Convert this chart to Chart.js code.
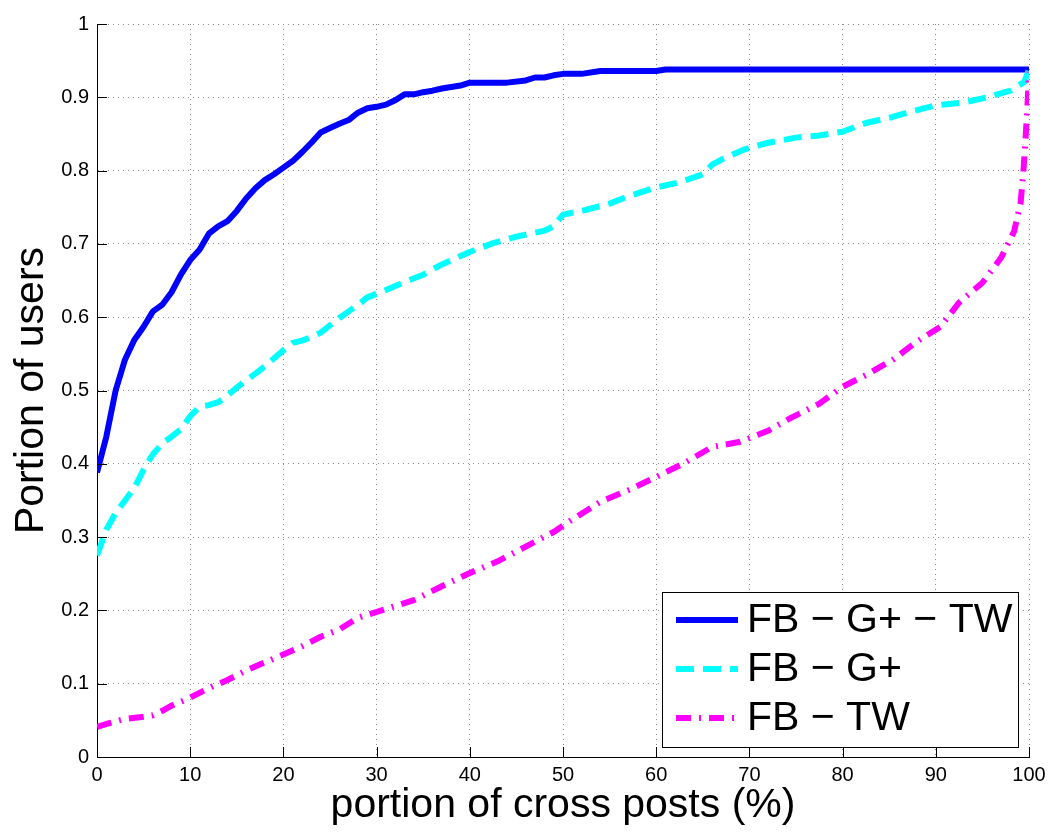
<!DOCTYPE html>
<html>
<head>
<meta charset="utf-8">
<script src="https://cdn.jsdelivr.net/npm/chart.js@4/dist/chart.umd.min.js"></script>
<style>
html,body{margin:0;padding:0;background:#fff;}
#wrap{width:1055px;height:838px;}
</style>
</head>
<body>
<div id="wrap"><canvas id="c" width="1055" height="838"></canvas></div>
<script>
// ---- data ----
const seriesNames = ["FB \u2212 G+ \u2212 TW", "FB \u2212 G+", "FB \u2212 TW"];

const allX = [0,1,2,3,4,5,6,7,8,9,10,11,12,13,14,15,16,17,18,19,20,21,22,23,24,25,26,27,28,29,30,31,32,33,34,35,36,37,38,39,40,42,44,46,47,48,49,50,52,54,56,60,61,100];
const allY = [0.388,0.437,0.500,0.542,0.569,0.587,0.608,0.617,0.634,0.658,0.678,0.692,0.714,0.724,0.731,0.745,0.762,0.776,0.787,0.795,0.804,0.813,0.825,0.838,0.852,0.858,0.864,0.869,0.879,0.885,0.887,0.890,0.896,0.904,0.904,0.907,0.909,0.912,0.914,0.916,0.920,0.920,0.920,0.923,0.927,0.927,0.930,0.932,0.932,0.936,0.936,0.936,0.938,0.938];

const gpX = [0,1,2,3,4,5,6,7,8,9,10,11,12,13,14,15,16,17,18,19,20,21,22,23,24,25,26,27,28,29,30,31,33,35,37,40,42.5,45,48,49,50,52,55,57,60,62.5,65,66,67,69.5,72,75,77.5,80,82.5,85,87.5,90,93,95.5,98,99.5,100];
const gpY = [0.275,0.310,0.333,0.350,0.367,0.392,0.413,0.428,0.437,0.447,0.465,0.478,0.480,0.484,0.493,0.504,0.514,0.523,0.533,0.544,0.555,0.565,0.568,0.573,0.579,0.589,0.599,0.608,0.617,0.627,0.632,0.637,0.648,0.658,0.672,0.689,0.701,0.710,0.718,0.724,0.740,0.745,0.755,0.765,0.777,0.784,0.795,0.808,0.815,0.829,0.838,0.845,0.848,0.853,0.865,0.872,0.881,0.889,0.893,0.900,0.909,0.921,0.938];

const twX = [0,1.5,3,5,6,7,8,10,12,14,16,18,20,22,24,26,28,31,34,37,40,43,46,49,51,54,57,60,63,66,69,72,74.5,77.5,80,82.5,85.5,88,90.5,92.5,95,97,98.4,99.1,99.4,99.6,99.8,100];
const twY = [0.041,0.047,0.052,0.055,0.057,0.063,0.070,0.081,0.094,0.105,0.118,0.129,0.140,0.151,0.164,0.174,0.190,0.202,0.214,0.233,0.251,0.267,0.287,0.307,0.324,0.348,0.364,0.382,0.401,0.423,0.430,0.445,0.463,0.482,0.505,0.521,0.543,0.567,0.587,0.620,0.647,0.681,0.717,0.756,0.799,0.838,0.879,0.935];

const xTicks = [0,10,20,30,40,50,60,70,80,90,100];
const yTicks = [0,0.1,0.2,0.3,0.4,0.5,0.6,0.7,0.8,0.9,1];

const colors = ["#0000ff", "#00ffff", "#ff00ff"];
const dashes = [[], [18, 9], [15, 8, 2, 8]];

function pts(xs, ys){ return xs.map((x,i)=>({x:x, y:ys[i]})); }
const seriesData = [pts(allX, allY), pts(gpX, gpY), pts(twX, twY)];

const FONT = "'Liberation Sans', Arial, Helvetica, sans-serif";

// inward tick marks (MATLAB-style) using the scales
const tickPlugin = {
  id: 'inTicks',
  afterDraw(chart){
    const ctx = chart.ctx, xs = chart.scales.x, ys = chart.scales.y;
    const a = chart.chartArea;
    ctx.save();
    ctx.strokeStyle = '#000'; ctx.lineWidth = 1;
    ctx.beginPath();
    yTicks.forEach(v=>{ const p = Math.round(ys.getPixelForValue(v))+0.5; ctx.moveTo(a.left, p); ctx.lineTo(a.left+10, p); });
    xTicks.forEach(v=>{ const p = Math.round(xs.getPixelForValue(v))+0.5; ctx.moveTo(p, a.bottom); ctx.lineTo(p, a.bottom-10); });
    ctx.stroke();
    ctx.restore();
  }
};

// legend box inside the axes (lower right)
const legendPlugin = {
  id: 'boxLegend',
  afterDraw(chart){
    const ctx = chart.ctx;
    const bx = 662.5, by = 592.5, bw = 356, bh = 155;
    ctx.save();
    ctx.fillStyle = '#fff'; ctx.fillRect(bx, by, bw, bh);
    ctx.strokeStyle = '#000'; ctx.lineWidth = 1; ctx.strokeRect(bx, by, bw, bh);
    const rows = [620, 669, 718];
    chart.data.datasets.forEach((ds, i)=>{
      const y = rows[i];
      ctx.strokeStyle = ds.borderColor; ctx.lineWidth = 6; ctx.lineCap = 'butt';
      ctx.setLineDash(ds.borderDash || []);
      ctx.beginPath(); ctx.moveTo(676, y); ctx.lineTo(738, y); ctx.stroke();
      ctx.setLineDash([]);
      ctx.fillStyle = '#000'; ctx.font = "41px " + FONT; ctx.textBaseline = 'middle'; ctx.textAlign = 'left';
      ctx.fillText(ds.label, 747, y + 1);
    });
    ctx.restore();
  }
};

const datasets = seriesNames.map((n,i)=>({
  label: n, data: seriesData[i], borderColor: colors[i], backgroundColor: colors[i],
  borderWidth: 6, borderDash: dashes[i], borderCapStyle: 'butt', borderJoinStyle: 'round',
  pointRadius: 0, tension: 0, fill: false, order: 3 - i
}));

new Chart(document.getElementById('c'), {
  type: 'line',
  data: { datasets },
  options: {
    responsive: false, animation: false, devicePixelRatio: 1,
    layout: { padding: { top: 24, right: 26, left: 0, bottom: 0 } },
    plugins: { legend: { display: false }, tooltip: { enabled: false } },
    scales: {
      x: {
        type: 'linear', min: 0, max: 100,
        afterBuildTicks: s => { s.ticks = xTicks.map(v=>({value:v})); },
        afterFit: s => { s.height = 81; },
        ticks: { color: '#000', font: { family: FONT, size: 20 }, padding: 6, maxRotation: 0, autoSkip: false },
        grid: { color: '#8a8a8a', lineWidth: 1, drawTicks: false },
        border: { display: true, color: '#000', width: 1, dash: [1, 4] },
        title: { display: true, text: 'portion of cross posts (%)', color: '#000', font: { family: FONT, size: 41 }, padding: { top: 0, bottom: 8 } }
      },
      y: {
        type: 'linear', min: 0, max: 1,
        afterBuildTicks: s => { s.ticks = yTicks.map(v=>({value:v})); },
        afterFit: s => { s.width = 97; },
        ticks: { color: '#000', font: { family: FONT, size: 20 }, padding: 8, autoSkip: false,
                 callback: v => String(Math.round(v*10)/10) },
        grid: { color: '#8a8a8a', lineWidth: 1, drawTicks: false },
        border: { display: true, color: '#000', width: 1, dash: [1, 4] },
        title: { display: true, text: 'Portion of users', color: '#000', font: { family: FONT, size: 41 }, padding: { top: 7, bottom: 0 } }
      }
    }
  },
  plugins: [tickPlugin, legendPlugin]
});
</script>
</body>
</html>
